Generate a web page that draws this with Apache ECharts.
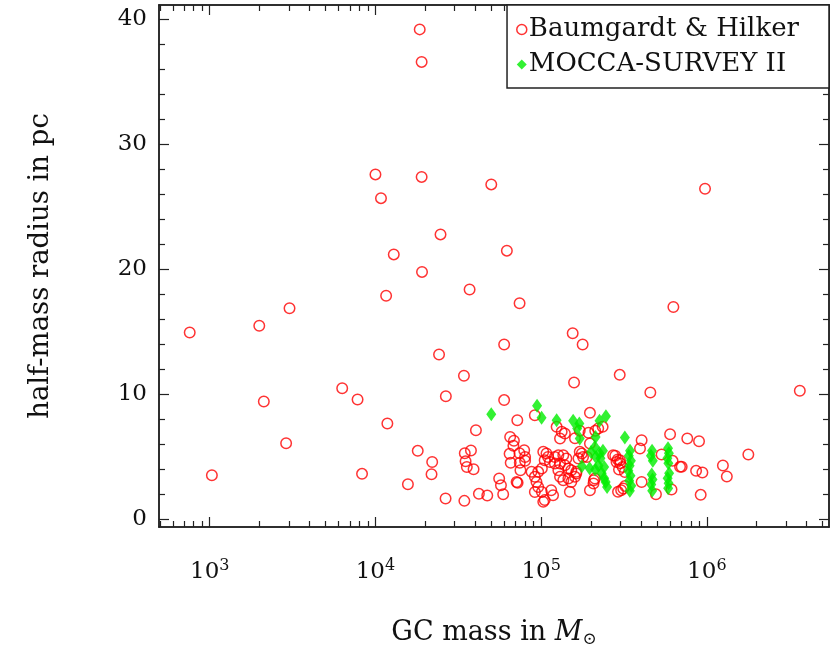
<!DOCTYPE html>
<html>
<head>
<meta charset="utf-8">
<script src="https://cdn.jsdelivr.net/npm/echarts@6/dist/echarts.min.js"></script>
<style>
  html, body { margin: 0; padding: 0; background: #fff; }
  #chart { width: 831px; height: 655px; }
</style>
</head>
<body>
<div id="chart"></div>
<script>
// Baumgardt & Hilker globular clusters (mass in Msun, half-mass radius in pc)
const bhMass = [
  18500, 19000, 10000, 19000, 50000, 10800, 975000, 24700, 12900, 62100,
  19100, 757, 1990, 3030, 11600, 37000, 74100, 628000, 155000, 178000,
  59800, 24200, 34200, 158000, 298000, 456000, 3640000, 6300, 7800, 2120,
  26600, 59800, 11800, 2890, 1030, 8300, 40400, 18000, 22000, 21800,
  15700, 26500, 34400, 34600, 37700, 35000, 35600, 39100, 42100, 47300,
  71800, 91600, 197000, 124000, 133000, 193000, 221000,
  65000, 68500, 68000, 64500, 74000, 79000, 80000, 65500, 74300, 80000,
  75000, 71100, 55800, 57200, 59000, 72100,
  103000, 105000, 101000, 96000, 91600, 87500, 93700, 96000, 101000, 91600, 105000,
  107700, 110000, 113000,
  121000, 127000, 136000, 142000, 121000, 130000, 139000, 146000, 127000,
  130000, 136000, 146000, 152000, 160000, 163000, 152000,
  115000, 118000, 103000, 149000, 130000, 139000, 171000, 179000, 160000,
  171000, 212000, 197000, 176000, 189000, 168000, 163000, 211000, 207000, 197000, 208000,
  280000, 290000, 300000, 310000, 295000, 285000, 320000, 304000, 291000, 313000, 321000,
  272000, 299000,
  404000, 395000, 404000, 493000, 612000, 235000, 600000, 533000, 621000,
  762000, 897000, 1780000, 705000, 861000, 940000, 1250000, 1320000, 918000, 689000
];
const bhRadius = [
  39.2, 36.6, 27.6, 27.4, 26.8, 25.7, 26.45, 22.8, 21.2, 21.5,
  19.8, 14.96, 15.5, 16.9, 17.9, 18.4, 17.3, 17.0, 14.9, 14.0,
  14.0, 13.2, 11.5, 10.96, 11.57, 10.16, 10.3, 10.5, 9.6, 9.44,
  9.86, 9.55, 7.68, 6.1, 3.54, 3.65, 7.14, 5.49, 4.6, 3.62,
  2.82, 1.68, 1.49, 5.3, 5.52, 4.66, 4.2, 4.02, 2.05, 1.92,
  7.94, 8.34, 8.53, 7.41, 7.01, 6.93, 7.28,
  6.6, 6.3, 5.9, 5.25, 5.3, 5.54, 5.0, 4.53, 4.53, 4.7,
  3.94, 3.0, 3.28, 2.74, 2.02, 2.93,
  5.41, 4.74, 4.08, 3.81, 3.41, 3.81, 3.0, 2.6, 2.2, 2.2, 1.55,
  5.28, 5.0, 4.6,
  5.0, 5.14, 5.14, 4.88, 4.48, 4.48, 4.34, 4.08, 3.94,
  3.41, 3.14, 3.28, 3.0, 3.41, 3.81, 3.94,
  2.34, 1.94, 1.41, 2.21, 6.48, 6.88, 5.41, 5.0, 6.5,
  7.1, 7.1, 6.08, 5.28, 5.0, 4.88, 3.68, 3.28, 2.88, 2.34, 3.14,
  5.1, 4.8, 4.5, 4.2, 4.0, 4.6, 3.8, 2.34, 2.21, 2.48, 2.67,
  5.14, 4.74,
  6.34, 5.68, 3.0, 2.02, 2.4, 7.41, 6.82, 5.2, 4.69,
  6.48, 6.26, 5.2, 4.21, 3.89, 3.76, 4.32, 3.44, 1.97, 4.21
];
// MOCCA-SURVEY II models
const moccaMass = [
  50000, 94500, 100600, 124000, 156000, 170000, 165000, 225000, 246000, 171000,
  213000, 320000, 200000, 211000, 225000, 236000, 214000, 228000, 176000, 196000,
  212000, 222000, 240000, 232000, 240000, 245000, 250000,
  344000, 338000, 348000, 342000, 336000, 346000, 340000, 350000, 343000,
  467000, 460000, 472000, 465000, 470000, 462000, 468000,
  583000, 590000, 578000, 586000, 592000, 580000, 588000, 584000
];
const moccaRadius = [
  8.42, 9.09, 8.13, 7.94, 7.89, 7.68, 7.28, 7.89, 8.26, 6.48,
  6.6, 6.55, 5.4, 5.8, 5.3, 5.5, 5.0, 4.9, 4.26, 4.1,
  4.0, 4.3, 4.2, 3.7, 3.3, 3.0, 2.6,
  5.5, 5.1, 4.7, 4.3, 3.9, 3.5, 3.1, 2.7, 2.3,
  5.5, 5.1, 4.7, 3.6, 3.2, 2.8, 2.3,
  5.7, 5.3, 4.9, 4.5, 3.7, 3.3, 2.9, 2.5
];

const xMin = 494, xMax = 5460000;
const yMin = -0.6, yMax = 41.15;
const xMajorTicks = [1e3, 1e4, 1e5, 1e6];
const yMajorTicks = [0, 10, 20, 30, 40];

const xMinorTicks = [];
[100, 1e3, 1e4, 1e5, 1e6].forEach(d => {
  for (let k = 2; k <= 9; k++) {
    const v = k * d;
    if (v >= xMin && v <= xMax) xMinorTicks.push(v);
  }
});
const yMinorTicks = [];
for (let v = 2; v < yMax; v += 2) {
  if (v % 10 !== 0) yMinorTicks.push(v);
}

const FONT = 'DejaVu Serif';
const lineColor = '#222';

function xAxisDef(pos, ticks, len, labels) {
  return {
    type: 'log', position: pos, min: xMin, max: xMax, logBase: 10,
    axisLine: { show: true, onZero: false, lineStyle: { color: lineColor, width: 1.5 } },
    axisTick: { show: true, inside: true, length: len, customValues: ticks,
                lineStyle: { color: lineColor, width: 1.2 } },
    axisLabel: labels ? {
      show: true, customValues: ticks, margin: 31, color: '#111',
      fontFamily: FONT, fontSize: 23,
      formatter: v => '10{sup|' + Math.round(Math.log10(v)) + '}',
      rich: { sup: { fontFamily: FONT, fontSize: 16, padding: [0, 0, 12, 0], verticalAlign: 'bottom' } }
    } : { show: false },
    splitLine: { show: false }, minorTick: { show: false }
  };
}
function yAxisDef(pos, ticks, len, labels) {
  return {
    type: 'value', position: pos, min: yMin, max: yMax,
    axisLine: { show: true, onZero: false, lineStyle: { color: lineColor, width: 1.5 } },
    axisTick: { show: true, inside: true, length: len, customValues: ticks,
                lineStyle: { color: lineColor, width: 1.2 } },
    axisLabel: labels ? {
      show: true, customValues: ticks, margin: 12, color: '#111',
      fontFamily: FONT, fontSize: 23
    } : { show: false },
    splitLine: { show: false }, minorTick: { show: false }
  };
}

const chart = echarts.init(document.getElementById('chart'), null, { renderer: 'canvas' });

const xAxes = [
  xAxisDef('bottom', xMajorTicks, 10, true),
  xAxisDef('bottom', xMinorTicks, 6, false),
  xAxisDef('top', xMajorTicks, 10, false),
  xAxisDef('top', xMinorTicks, 6, false)
];
xAxes[0].name = 'GC mass in {i|M}{s|⊙}';
xAxes[0].nameLocation = 'middle';
xAxes[0].nameGap = 90;
xAxes[0].nameTextStyle = {
  fontFamily: FONT, fontSize: 27, color: '#111',
  rich: {
    i: { fontFamily: FONT, fontSize: 27, fontStyle: 'italic' },
    s: { fontFamily: FONT, fontSize: 17, padding: [14, 0, 0, 0], verticalAlign: 'top' }
  }
};

const yAxes = [
  yAxisDef('left', yMajorTicks, 10, true),
  yAxisDef('left', yMinorTicks, 6, false),
  yAxisDef('right', yMajorTicks, 10, false),
  yAxisDef('right', yMinorTicks, 6, false)
];
yAxes[0].name = 'half-mass radius in pc';
yAxes[0].nameLocation = 'middle';
yAxes[0].nameGap = 104;
yAxes[0].nameTextStyle = { fontFamily: FONT, fontSize: 27.5, color: '#111' };

const option = {
  backgroundColor: '#fff',
  animation: false,
  grid: { left: 159, right: 2, top: 5, bottom: 128, containLabel: false },
  xAxis: xAxes,
  yAxis: yAxes,
  legend: {
    right: 2, top: 5,
    orient: 'vertical',
    padding: [11, 30, 10, 9],
    itemGap: 8,
    itemWidth: 10, itemHeight: 10,
    borderColor: lineColor, borderWidth: 1.5, borderRadius: 0,
    backgroundColor: '#fff',
    textStyle: { fontFamily: FONT, fontSize: 26, lineHeight: 27, color: '#111', padding: [0, 0, 0, -3] },
    data: [
      { name: 'Baumgardt & Hilker', icon: 'circle',
        itemStyle: { color: 'transparent', borderColor: '#ff0000', borderWidth: 1.5 } },
      { name: 'MOCCA-SURVEY II', icon: 'diamond' }
    ]
  },
  series: [
    {
      name: 'Baumgardt & Hilker', type: 'scatter',
      xAxisIndex: 0, yAxisIndex: 0,
      symbol: 'circle', symbolSize: 10.5,
      itemStyle: { color: 'transparent', borderColor: '#ff0000', borderWidth: 1.5 },
      data: bhMass.map((m, i) => [m, bhRadius[i]]),
      z: 2
    },
    {
      name: 'MOCCA-SURVEY II', type: 'scatter',
      xAxisIndex: 0, yAxisIndex: 0,
      symbol: 'diamond', symbolSize: [10, 14],
      itemStyle: { color: '#00ee00' },
      data: moccaMass.map((m, i) => [m, moccaRadius[i]]),
      z: 3
    }
  ]
};

chart.setOption(option);
window.addEventListener('resize', chart.resize);
</script>
</body>
</html>
